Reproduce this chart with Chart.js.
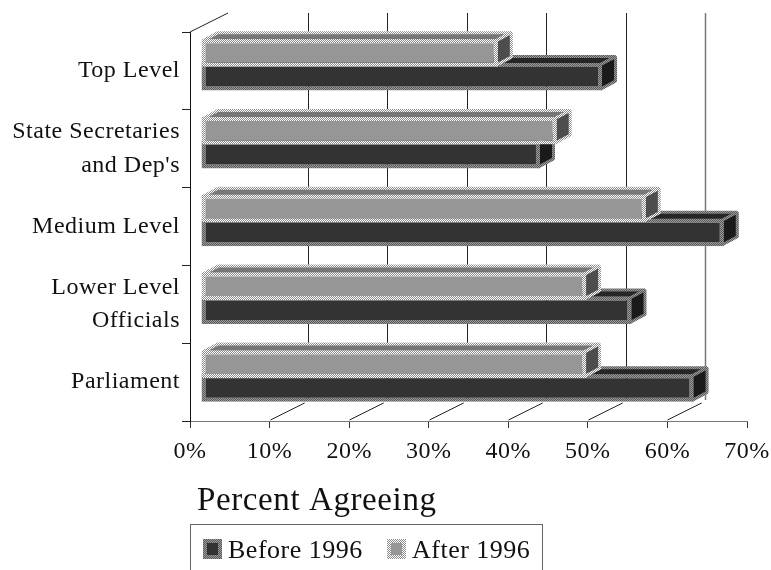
<!DOCTYPE html>
<html>
<head>
<meta charset="utf-8">
<style>
html, body { margin: 0; padding: 0; background: #fff; }
#wrap { width: 771px; height: 570px; overflow: hidden; }
</style>
<script src="https://cdn.jsdelivr.net/npm/chart.js@4"></script>
</head>
<body>
<div id="wrap"><canvas id="myChart" width="771" height="570"></canvas></div>
<script>
// Chart values
const categories = ['Top Level', ["State Secretaries", "and Dep's"], 'Medium Level', ['Lower Level', 'Officials'], 'Parliament'];
const beforeValues = [50.4, 42.6, 65.7, 54.1, 61.9];
const afterValues = [37.3, 44.7, 55.9, 48.4, 48.4];
const xTicks = [0, 10, 20, 30, 40, 50, 60, 70];
const xTitle = 'Percent Agreeing';

const FONT = '"Liberation Serif", serif';

// Dithered 2x2 tile, used for the bar outlines
const dither = (a, b) => {
    const tile = document.createElement('canvas');
    tile.width = 2;
    tile.height = 2;
    const c = tile.getContext('2d');
    c.fillStyle = a;
    c.fillRect(0, 0, 2, 2);
    c.fillStyle = b;
    c.fillRect(0, 0, 1, 1);
    c.fillRect(1, 1, 1, 1);
    return c.createPattern(tile, 'repeat');
};

const beforeEdge = dither('#5a5a5a', '#9a9a9a');
const afterEdge = dither('#ffffff', '#8c8c8c');

// Offset of the bars from the front plane, and the depth of each bar
const barShift = {x: 11, y: -6};
const barDepth = {x: 15, y: -8};
// Offset of the back wall from the front plane
const wall = {x: 38, y: -19};
const EDGE = 4;

const faces = {
    'Before 1996': {top: '#262626', side: '#1a1a1a', edge: beforeEdge},
    'After 1996': {top: '#777777', side: '#4d4d4d', edge: afterEdge}
};

const polygon = (ctx, pts, fill, edge) => {
    ctx.beginPath();
    pts.forEach((p, i) => i ? ctx.lineTo(p[0], p[1]) : ctx.moveTo(p[0], p[1]));
    ctx.closePath();
    ctx.fillStyle = fill;
    ctx.fill();
    ctx.lineWidth = 3;
    ctx.lineJoin = 'bevel';
    ctx.strokeStyle = edge;
    ctx.stroke();
};

const threeD = {
    id: 'threeD',
    // Wider text spacing for everything the scales draw
    beforeLayout: (chart) => {
        chart.ctx.letterSpacing = '0.5px';
    },
    // Back wall gridlines and the floor diagonals
    beforeDatasetsDraw: (chart) => {
        const {ctx, scales: {x}, chartArea} = chart;
        ctx.save();
        ctx.lineWidth = 1;
        ctx.strokeStyle = '#222';
        xTicks.slice(1, -1).forEach(v => {
            const px = Math.round(x.getPixelForValue(v)) + 0.5;
            ctx.save();
            if (v === 60) {
                ctx.strokeStyle = '#777';
                ctx.lineWidth = 1.5;
            }
            ctx.beginPath();
            ctx.moveTo(px + wall.x, chartArea.top + wall.y);
            ctx.lineTo(px + wall.x, chartArea.bottom + wall.y - 2);
            ctx.stroke();
            ctx.restore();
            ctx.beginPath();
            ctx.moveTo(px, chartArea.bottom - 1);
            ctx.lineTo(px + wall.x * 0.9, chartArea.bottom + wall.y * 0.95);
            ctx.stroke();
        });
        ctx.beginPath();
        ctx.moveTo(chartArea.left, chartArea.top);
        ctx.lineTo(chartArea.left + wall.x, chartArea.top + wall.y);
        ctx.stroke();
        ctx.restore();
    },
    // Shift the dataset off the front plane, and draw the top and side faces
    beforeDatasetDraw: (chart, args) => {
        const {ctx} = chart;
        const f = faces[chart.data.datasets[args.index].label];
        ctx.save();
        ctx.translate(barShift.x, barShift.y);
        args.meta.data.forEach(bar => {
            const {x, y, base, height} = bar.getProps(['x', 'y', 'base', 'height'], true);
            const t = y - height / 2 + 1.5;
            const b = y + height / 2 - 1.5;
            const r = x - 1.5;
            const l = base + 1.5;
            const d = barDepth;
            polygon(ctx, [[l, t], [r, t], [r + d.x, t + d.y], [l + d.x, t + d.y]], f.top, f.edge);
            polygon(ctx, [[r, t], [r + d.x, t + d.y], [r + d.x, b + d.y], [r, b]], f.side, f.edge);
        });
    },
    afterDatasetDraw: (chart) => {
        chart.ctx.restore();
    },
    // Axis title and the boxed legend below the chart
    afterDraw: (chart) => {
        const {ctx} = chart;
        ctx.save();
        ctx.fillStyle = '#111';
        ctx.textBaseline = 'alphabetic';
        ctx.letterSpacing = '0.6px';
        ctx.font = '33px ' + FONT;
        ctx.fillText(xTitle, 197, 510);

        ctx.strokeStyle = '#666';
        ctx.lineWidth = 1;
        ctx.strokeRect(190.5, 524.5, 352, 60);

        ctx.letterSpacing = '0.5px';
        ctx.font = '26px ' + FONT;
        const entries = [['Before 1996', 203, 228], ['After 1996', 387, 412]];
        entries.forEach(([label, boxX, textX]) => {
            const f = chart.data.datasets.find(d => d.label === label);
            ctx.fillStyle = f.borderColor;
            ctx.fillRect(boxX, 539, 19, 20);
            ctx.fillStyle = f.backgroundColor;
            ctx.fillRect(boxX + 4, 543, 11, 12);
            ctx.fillStyle = '#111';
            ctx.fillText(label, textX, 558);
        });
        ctx.restore();
    }
};

// Create chart
var ctx = document.getElementById('myChart').getContext('2d');
var myChart = new Chart(ctx, {
    type: 'bar',
    data: {
        labels: categories,
        datasets: [{
            label: 'After 1996',
            data: afterValues,
            backgroundColor: '#969696',
            borderColor: afterEdge,
            borderWidth: EDGE,
            borderSkipped: false,
            clip: false
        }, {
            label: 'Before 1996',
            data: beforeValues,
            backgroundColor: '#333333',
            borderColor: beforeEdge,
            borderWidth: EDGE,
            borderSkipped: false,
            clip: false
        }]
    },
    options: {
        indexAxis: 'y',
        responsive: false,
        animation: false,
        categoryPercentage: 0.615,
        barPercentage: 1.15,
        layout: {
            padding: {top: 32, right: 24, bottom: 0, left: 0}
        },
        plugins: {
            legend: {display: false},
            title: {display: false},
            tooltip: {enabled: false}
        },
        scales: {
            x: {
                type: 'linear',
                min: 0,
                max: 70,
                afterFit: (scale) => {
                    scale.height = 149;
                    scale.paddingLeft = 0;
                    scale.paddingRight = 0;
                },
                afterBuildTicks: (scale) => { scale.ticks = xTicks.map(v => ({value: v})); },
                grid: {drawOnChartArea: false, drawTicks: true, tickLength: 7, color: '#333'},
                border: {color: '#777', width: 1},
                ticks: {
                    color: '#111',
                    padding: 9,
                    maxRotation: 0,
                    font: {family: FONT, size: 24},
                    callback: (v) => v + '%'
                }
            },
            y: {
                afterFit: (scale) => { scale.width = 190; },
                grid: {drawOnChartArea: false, drawTicks: true, tickLength: 8, color: '#222'},
                border: {color: '#111', width: 1},
                ticks: {
                    color: '#111',
                    padding: 2,
                    autoSkip: false,
                    font: {family: FONT, size: 24, lineHeight: 1.38}
                }
            }
        }
    },
    plugins: [threeD]
});
</script>
</body>
</html>
